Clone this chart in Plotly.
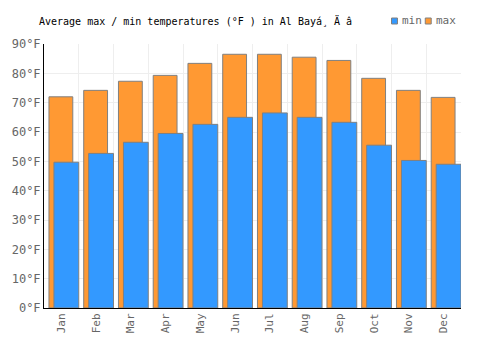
import plotly.graph_objects as go

months = ["Jan", "Feb", "Mar", "Apr", "May", "Jun", "Jul", "Aug", "Sep", "Oct", "Nov", "Dec"]
max_f = [72.0, 74.2, 77.3, 79.3, 83.4, 86.5, 86.5, 85.5, 84.4, 78.3, 74.2, 71.8]
min_f = [49.7, 52.7, 56.5, 59.5, 62.6, 65.0, 66.5, 65.0, 63.3, 55.5, 50.3, 49.0]
y_ticks = [0, 10, 20, 30, 40, 50, 60, 70, 80, 90]
y_tick_labels = [f"{v}°F" for v in y_ticks]

x = list(range(len(months)))
FONT = "DejaVu Sans Mono"
COL_MAX = "#FF9933"
COL_MIN = "#3399FF"

fig = go.Figure()
fig.add_trace(go.Bar(
    x=x, y=max_f, name="max",
    width=24 / 35, offset=-0.5 + 5 / 35,
    marker=dict(color=COL_MAX, line=dict(color="#808080", width=1)),
))
fig.add_trace(go.Bar(
    x=x, y=min_f, name="min",
    width=25 / 35, offset=-0.5 + 10 / 35,
    marker=dict(color=COL_MIN, line=dict(color="#808080", width=1)),
))

# manual legend (container pixel positions)
W, H = 500, 350
legend_items = [("min", COL_MIN, 391), ("max", COL_MAX, 425)]
shapes = []
annotations = []
for label, col, x0 in legend_items:
    shapes.append(dict(type="rect", xref="paper", yref="paper",
                       x0=(x0 - 41) / 420, x1=(x0 + 6 - 41) / 420,
                       y0=(308 - 24) / 264, y1=(308 - 18) / 264,
                       fillcolor=col, line=dict(color="#808080", width=1)))
    annotations.append(dict(text=label, xref="paper", yref="paper",
                            x=(x0 + 9 - 41) / 420, y=(308 - 21) / 264,
                            xanchor="left", yanchor="middle", showarrow=False,
                            font=dict(family=FONT, size=11, color="#666666")))

fig.update_layout(
    width=W, height=H,
    margin=dict(l=41, r=39, t=44, b=42),
    paper_bgcolor="white", plot_bgcolor="white",
    barmode="overlay",
    showlegend=False,
    shapes=shapes, annotations=annotations,
    title=dict(text="Average max / min temperatures (°F ) in Al Bayá¸ Ä â",
               x=39 / W, xanchor="left", y=1 - 21 / H, yanchor="middle",
               font=dict(family=FONT, size=10, color="black")),
    xaxis=dict(range=[-0.5, 11.5], tickmode="array", tickvals=x, ticktext=months,
               tickangle=-90, showgrid=False, zeroline=False,
               showline=True, linecolor="black", linewidth=1,
               ticks="", tickfont=dict(family=FONT, size=11, color="#666666"),
               minor=dict(tick0=-0.5, dtick=1, showgrid=True, gridcolor="#eeeeee", gridwidth=1),
               fixedrange=True),
    yaxis=dict(range=[0, 90], tickmode="array", tickvals=y_ticks, ticktext=y_tick_labels,
               showgrid=True, gridcolor="#eeeeee", gridwidth=1, zeroline=False,
               showline=True, linecolor="black", linewidth=1,
               ticks="", tickfont=dict(family=FONT, size=12, color="#666666"),
               fixedrange=True),
)

fig.write_html("out.html", config={"displayModeBar": False})
